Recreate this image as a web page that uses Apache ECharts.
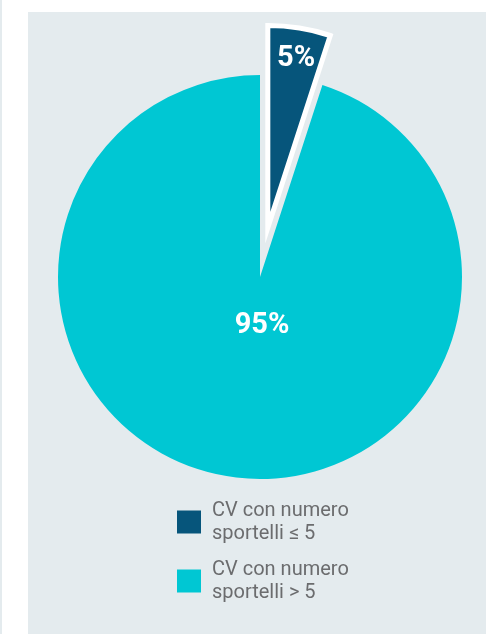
<!DOCTYPE html>
<html>
<head>
<meta charset="utf-8">
<script src="https://cdn.jsdelivr.net/npm/echarts@6/dist/echarts.min.js"></script>
<style>
  html, body { margin: 0; padding: 0; background: #ffffff; }
  #chart { width: 486px; height: 634px; }
</style>
</head>
<body>
<div id="chart"></div>
<script>
// Share of CV by number of branches (sportelli)
const categories = ['CV con numero\nsportelli \u2264 5', 'CV con numero\nsportelli > 5'];
const shares = [5, 95];
const colors = ['#06557b', '#00c7d3'];

const chart = echarts.init(document.getElementById('chart'), null, { renderer: 'canvas' });

const pieData = categories.map((name, i) => ({
  name: name,
  value: shares[i],
  selected: i === 0,
  itemStyle: i === 0
    ? { color: colors[i], borderColor: '#ffffff', borderWidth: 5, borderJoin: 'miter', borderMiterLimit: 20 }
    : { color: colors[i], borderWidth: 0 },
  label: { position: i === 0 ? 'inside' : 'center' }
}));

// nudges that place the two percentage labels inside their slices
const labelShift = [[12, -66], [2, 49]];

chart.setOption({
  animation: false,
  graphic: [
    { type: 'rect', z: -10, shape: { x: 28, y: 12, width: 458, height: 622 }, style: { fill: '#e4ebee' } },
    { type: 'rect', z: -10, shape: { x: 0, y: 0, width: 2, height: 634 }, style: { fill: '#e4ebee' } }
  ],
  legend: {
    orient: 'vertical',
    left: 177,
    top: 499,
    padding: 0,
    icon: 'rect',
    itemWidth: 24,
    itemHeight: 23,
    itemGap: 13,
    selectedMode: false,
    itemStyle: { borderWidth: 0 },
    textStyle: {
      fontFamily: 'Roboto',
      fontSize: 20,
      lineHeight: 23,
      color: '#6b6c6e',
      padding: [0, 0, 0, 6]
    },
    data: categories
  },
  series: [{
    type: 'pie',
    center: [260, 277],
    radius: 202,
    startAngle: 90,
    clockwise: true,
    selectedMode: 'single',
    selectedOffset: 50,
    avoidLabelOverlap: false,
    emphasis: { disabled: true },
    label: {
      show: true,
      formatter: '{c}%',
      color: '#ffffff',
      fontFamily: 'Roboto',
      fontWeight: 'bold',
      fontSize: 29
    },
    labelLine: { show: false },
    labelLayout: function (params) {
      const s = labelShift[params.dataIndex];
      return { dx: s[0], dy: s[1] };
    },
    data: pieData
  }]
});
</script>
</body>
</html>
